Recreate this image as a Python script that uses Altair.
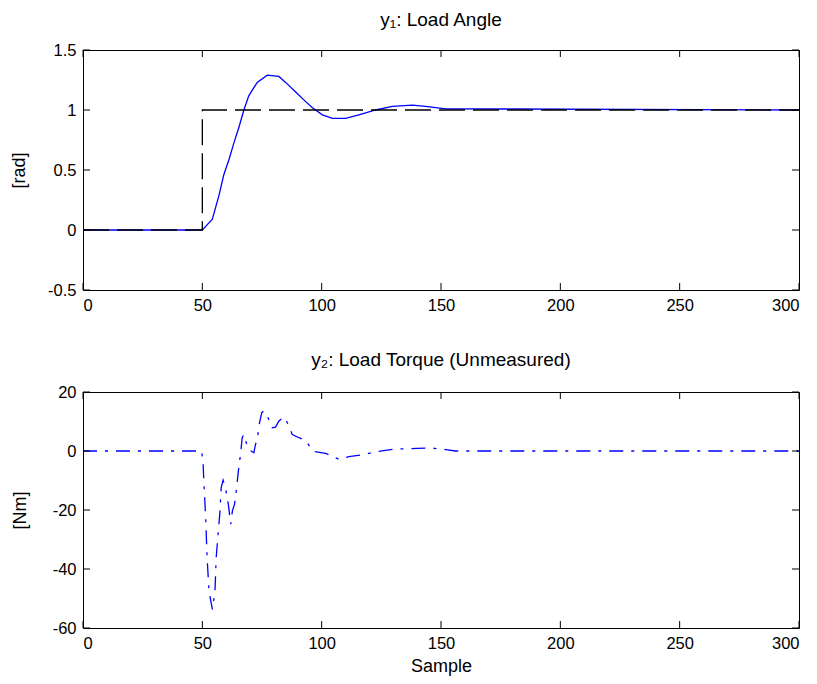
import altair as alt
import pandas as pd

# ---- data ----
y1_x = [0, 50, 51.4, 54.2, 57, 59, 61.2, 63.3, 65.4, 67.4, 69.5, 73, 77.2, 82.1, 84.9,
        89.1, 93.3, 96, 100.3, 104.5, 110, 115.6, 122.6, 129.6, 138, 143.6, 152, 300]
y1_y = [0, 0, 0.03, 0.09, 0.29, 0.46, 0.59, 0.73, 0.86, 1.0, 1.12, 1.23, 1.29, 1.28, 1.23,
        1.15, 1.07, 1.02, 0.96, 0.93, 0.93, 0.96, 1.0, 1.03, 1.04, 1.03, 1.01, 1.0]
ref_x = [0, 50, 50, 300]
ref_y = [0, 0, 1, 1]

y2_x = [0, 49.7, 50.3, 50.7, 51.4, 52, 52.8, 54.2, 55.3, 55.8, 56.7, 57.3, 57.9, 58.7,
        59.8, 60.9, 61.9, 62.6, 63.5, 64.2, 65.1, 66, 66.7, 67.4, 68.8, 70, 71.6, 72.3,
        73, 73.7, 74.9, 75.8, 77.2, 79.3, 80.7, 82.1, 84.2, 85.6, 87.7, 90.5, 93.3, 95.4,
        96.8, 101.7, 107.2, 111.4, 116.3, 122.6, 130, 140, 146, 152, 156, 300]
y2_y = [0, 0, -4, -11.3, -22.6, -36.2, -47.5, -53.7, -47.5, -36.2, -27.1, -21.5, -12.4, -9.9,
        -13, -18.1, -24.8, -20.3, -18, -13.6, -6.8, -1.1, 4.5, 5.6, 1.7, 0.2, -0.6, 2.3,
        3.6, 8.5, 13, 13.6, 11.9, 7.9, 8.1, 10.2, 11.5, 9.6, 5.6, 4.5, 3.6, 1.1,
        -0.2, -0.8, -2.8, -1.9, -1.4, -0.3, 0.6, 0.9, 1.0, 0.5, 0, 0]

x_ticks = [0, 50, 100, 150, 200, 250, 300]
y1_ticks = [-0.5, 0, 0.5, 1, 1.5]
y2_ticks = [-60, -40, -20, 0, 20]

W = 716
FONT = "Liberation Sans"


def frame(df_list, y_ticks, y_domain, height, title, y_title, x_title, title_pad, t_off):
    xs = alt.Scale(domain=[0, 300], nice=False, zero=False)
    ys = alt.Scale(domain=y_domain, nice=False, zero=False)
    x_axis = alt.Axis(values=x_ticks, ticks=False, domain=False, grid=False,
                      labelPadding=7, labelFontSize=16.5, labelFont=FONT, labelColor="#000",
                      title=x_title, titleFontSize=18, titleFont=FONT, titleFontWeight="normal",
                      titleColor="#000", titlePadding=6)
    y_axis = alt.Axis(values=y_ticks, ticks=False, domain=False, grid=False,
                      labelPadding=7, labelFontSize=16.5, labelFont=FONT, labelColor="#000",
                      labelExpr="'' + datum.value",
                      title=y_title, titleFontSize=18, titleFont=FONT, titleFontWeight="normal",
                      titleColor="#000", titlePadding=title_pad)
    layers = []
    for df, color, dash in df_list:
        enc = dict(
            x=alt.X("x:Q", scale=xs, axis=x_axis, title=x_title),
            y=alt.Y("y:Q", scale=ys, axis=y_axis, title=y_title),
            order=alt.Order("i:Q"),
        )
        mk = dict(color=color, strokeWidth=1.3)
        if dash:
            mk["strokeDash"] = dash
        layers.append(alt.Chart(df).mark_line(**mk).encode(**enc))
    xt = pd.DataFrame({"x": x_ticks})
    yt = pd.DataFrame({"y": y_ticks})
    tx = alt.X("x:Q", scale=xs, axis=x_axis, title=x_title)
    ty = alt.Y("y:Q", scale=ys, axis=y_axis, title=y_title)
    layers.append(alt.Chart(xt).mark_rule(color="#000", strokeWidth=1).encode(
        x=tx, y=alt.value(0), y2=alt.value(7)))
    layers.append(alt.Chart(xt).mark_rule(color="#000", strokeWidth=1).encode(
        x=tx, y=alt.value(height), y2=alt.value(height - 7)))
    layers.append(alt.Chart(yt).mark_rule(color="#000", strokeWidth=1).encode(
        y=ty, x=alt.value(0), x2=alt.value(7)))
    layers.append(alt.Chart(yt).mark_rule(color="#000", strokeWidth=1).encode(
        y=ty, x=alt.value(W), x2=alt.value(W - 7)))
    return alt.layer(*layers).properties(
        width=W, height=height,
        title=alt.TitleParams(title, fontSize=19, font=FONT, fontWeight="normal",
                              color="#000", offset=t_off))


df_y1 = pd.DataFrame({"x": y1_x, "y": y1_y, "i": range(len(y1_x))})
df_ref = pd.DataFrame({"x": ref_x, "y": ref_y, "i": range(len(ref_x))})
df_y2 = pd.DataFrame({"x": y2_x, "y": y2_y, "i": range(len(y2_x))})

top = frame([(df_y1, "#0000ff", None), (df_ref, "#000000", [26, 8])],
            y1_ticks, [-0.5, 1.5], 240, "y\u2081: Load Angle", "[rad]", None, 19, 12)
bottom = frame([(df_y2, "#0000ff", [14, 8, 3, 8])],
               y2_ticks, [-60, 20], 236, "y\u2082: Load Torque (Unmeasured)", "[Nm]", "Sample", 23, 14)

chart = alt.vconcat(top, bottom, spacing=36).properties(
    padding={"left": 2, "top": 2, "right": 0, "bottom": 2}
).configure_view(stroke="#000", strokeWidth=1).configure_concat(spacing=36)

chart.save("out.html", embed_options={"renderer": "svg", "actions": False})
